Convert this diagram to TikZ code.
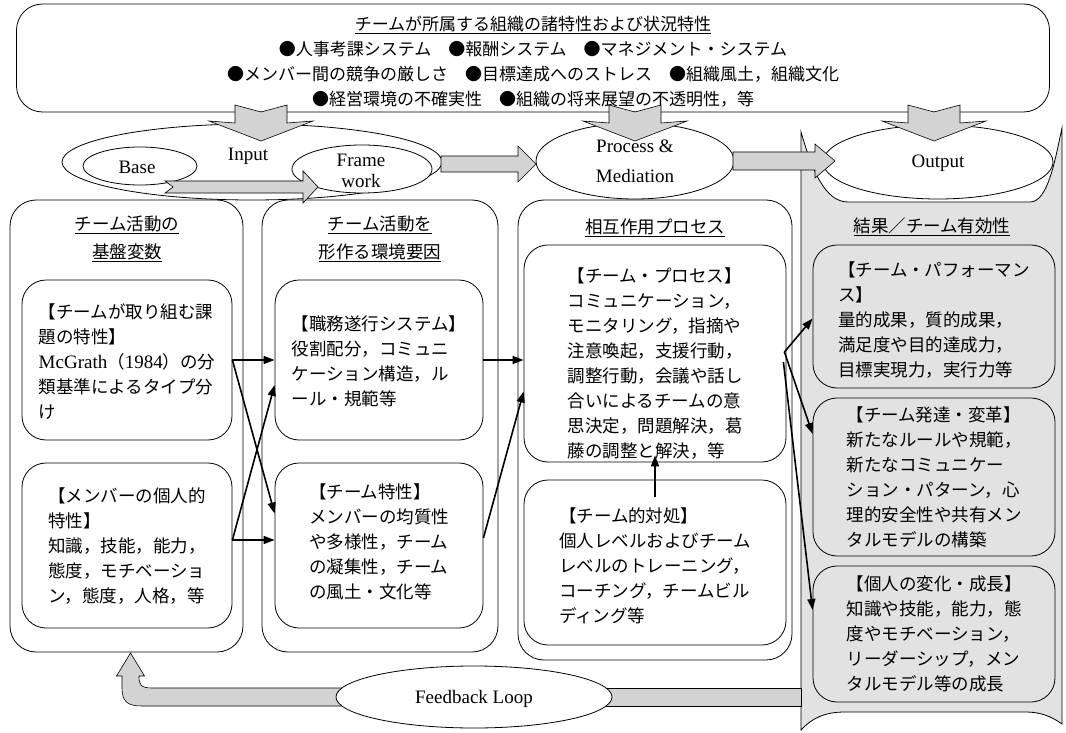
\documentclass[tikz,border=0pt]{standalone}
\usepackage{fontspec}
\setmainfont{Liberation Serif}
\newfontfamily\jp{Noto Sans CJK JP}
\usetikzlibrary{arrows.meta,shapes.geometric}
\definecolor{gfill}{HTML}{D3D3D3}
\definecolor{gcol}{HTML}{E2E2E2}
\newcommand\gdown[1]{%
\draw[garrow] (#1-26,105) -- (#1,112) -- (#1+26,105) -- (#1+26,123) -- (#1+52,121) -- (#1,141) -- (#1-52,121) -- (#1-26,123) -- cycle;}
\newcommand\gright[6]{%
\draw[garrow] (#1,#3-#4) -- (#2-#6,#3-#4) -- (#2-#6,#3-#5) -- (#2,#3) -- (#2-#6,#3+#5) -- (#2-#6,#3+#4) -- (#1,#3+#4) -- cycle;}
\newcommand\latin[1]{{\rmfamily\fontsize{19}{25}\selectfont #1}}
\begin{document}
\begin{tikzpicture}[x=1pt,y=-1pt,
  box/.style={draw=black,line width=0.8pt,rounded corners=26pt,inner sep=0pt},
  ibox/.style={draw=black,line width=0.8pt,rounded corners=24pt,inner sep=0pt},
  gbox/.style={ibox,fill=gcol},
  jtxt/.style={font=\jp\fontsize{17.5}{25}\selectfont,align=left,inner sep=0pt},
  jtitle/.style={font=\jp\fontsize{17.5}{28}\selectfont,align=center,inner sep=0pt},
  lat/.style={font=\fontsize{19}{22}\selectfont,align=center,inner sep=0pt},
  ell/.style={ellipse,draw=black,line width=0.8pt,fill=white,inner sep=0pt},
  garrow/.style={fill=gfill,draw=black,line width=0.6pt,line join=miter},
  blk/.style={line width=1.6pt,-{Triangle[length=11pt,width=8pt]}}]
\useasboundingbox (0,0) rectangle (1066,733);
% top box
\node[box,minimum width=1033pt,minimum height=108pt] (top) at (533,58) {};
\node[jtitle,font=\jp\fontsize{17}{25}\selectfont] (toptxt) at (533,62) {\underline{チームが所属する組織の諸特性および状況特性}\\●人事考課システム　●報酬システム　●マネジメント・システム\\●メンバー間の競争の厳しさ　●目標達成へのストレス　●組織風土，組織文化\\●経営環境の不確実性　●組織の将来展望の不透明性，等};
% output gray column
\draw[fill=gcol,line width=0.8pt] (801,132) -- (801,730) .. controls (812,718) and (825,712) .. (845,712) -- (1025,712) .. controls (1042,712) and (1052,717) .. (1062,724) -- (1062,128) .. controls (1055,160) and (1048,202) .. (1030,202) -- (848,202) .. controls (825,202) and (812,170) .. (801,132) -- cycle;
\node[jtitle] (c4t) at (932,227) {\underline{結果／チーム有効性}};
% columns
\node[box,minimum width=233pt,minimum height=452pt] (c1) at (126.5,426) {};
\node[box,minimum width=236pt,minimum height=452pt] (c2) at (380,426) {};
\node[box,minimum width=274pt,minimum height=460pt] (c3) at (655,430) {};
\node[jtitle] (c1t) at (127,239) {\underline{チーム活動の}\\\underline{基盤変数}};
\node[jtitle] (c2t) at (380,239) {\underline{チーム活動を}\\\underline{形作る環境要因}};
\node[jtitle] (c3t) at (655,228) {\underline{相互作用プロセス}};
% inner boxes
\node[ibox,minimum width=210pt,minimum height=160pt] (b1) at (127,360) {};
\node[ibox,minimum width=210pt,minimum height=165pt] (b3) at (127,545.5) {};
\node[ibox,minimum width=208pt,minimum height=160pt] (b2) at (379,360) {};
\node[ibox,minimum width=208pt,minimum height=165pt] (b4) at (379,545.5) {};
\node[ibox,minimum width=262pt,minimum height=217pt] (p) at (655,353.5) {};
\node[ibox,minimum width=262pt,minimum height=165pt] (t) at (655,562.5) {};
\node[gbox,minimum width=242pt,minimum height=143pt] (perf) at (934,316.5) {};
\node[gbox,minimum width=242pt,minimum height=158pt] (dev) at (934,477) {};
\node[gbox,minimum width=242pt,minimum height=136pt] (ind) at (934,634) {};
% texts
\node[jtxt] (b1x) at (127,362) {【チームが取り組む課\\題の特性】\\\latin{McGrath}（\latin{1984}）の分\\類基準によるタイプ分\\け};
\node[jtxt] (b2x) at (379,361) {【職務遂行システム】\\役割配分，コミュニ\\ケーション構造，ル\\ール・規範等};
\node[jtxt] (b3x) at (127,546) {【メンバーの個人的\\特性】\\知識，技能，能力，\\態度，モチベーショ\\ン，態度，人格，等};
\node[jtxt] (b4x) at (379,542) {【チーム特性】\\メンバーの均質性\\や多様性，チーム\\の凝集性，チーム\\の風土・文化等};
\node[jtxt] (px) at (655,364) {【チーム・プロセス】\\コミュニケーション，\\モニタリング，指摘や\\注意喚起，支援行動，\\調整行動，会議や話し\\合いによるチームの意\\思決定，問題解決，葛\\藤の調整と解決，等};
\node[jtxt] (tx) at (655,566) {【チーム的対処】\\個人レベルおよびチーム\\レベルのトレーニング，\\コーチング，チームビル\\ディング等};
\node[jtxt] (perfx) at (934,320) {【チーム・パフォーマン\\ス】\\量的成果，質的成果，\\満足度や目的達成力，\\目標実現力，実行力等};
\node[jtxt] (devx) at (934,477) {【チーム発達・変革】\\新たなルールや規範，\\新たなコミュニケー\\ション・パターン，心\\理的安全性や共有メン\\タルモデルの構築};
\node[jtxt] (indx) at (934,634) {【個人の変化・成長】\\知識や技能，能力，態\\度やモチベーション，\\リーダーシップ，メン\\タルモデル等の成長};
% ellipses
\node[ell,minimum width=380pt,minimum height=76pt] (inp) at (252,162) {};
\node[ell,minimum width=114pt,minimum height=38pt] (base) at (140,166) {};
\node[ell,minimum width=140pt,minimum height=48pt] (fw) at (362,169) {};
\node[ell,minimum width=198pt,minimum height=76pt] (proc) at (635,161) {};
\node[ell,minimum width=230pt,minimum height=74pt] (out) at (938,162) {};
\node[lat] (inpl) at (248,156) {Input};
\node[lat] (basel) at (137,167) {Base};
\node[lat,font=\fontsize{19}{21}\selectfont] (fwl) at (361,171) {Frame\\work};
\node[lat,font=\fontsize{19}{30}\selectfont] (procl) at (635,161) {Process \&\\Mediation};
\node[lat] (outl) at (938,163) {Output};
% gray arrows
\gdown{261}
\gdown{635}
\gdown{934}
\draw[garrow] (165,181) -- (303,181) -- (303,171) -- (318,187) -- (303,203) -- (303,193) -- (165,193) -- (173,187) -- cycle;
\gright{441}{536}{164}{8}{18}{18}
\gright{733}{835}{161}{9}{17}{20}
% black arrows
\draw[blk] (b1.east) -- (b2.west);
\draw[blk] ([yshift=5.5pt]b3.east) -- ([yshift=5.5pt]b4.west);
\draw[blk] (b1.east) -- ([yshift=32pt]b4.west);
\draw[blk] ([yshift=5.5pt]b3.east) -- ([yshift=-25pt]b2.west);
\draw[blk] (b2.east) -- ([yshift=-6.5pt]p.west);
\draw[blk] ([yshift=7.5pt]b4.east) -- ([yshift=-38pt]p.west);
\draw[blk] ([xshift=-2pt,yshift=1.5pt]p.east) -- ([yshift=-2pt]perf.west);
\draw[blk] ([xshift=-2pt,yshift=1.5pt]p.east) -- ([yshift=43pt]dev.west);
\draw[blk] ([xshift=-3pt,yshift=-8.5pt]p.east) -- ([yshift=24pt]ind.west);
\draw[blk] ([yshift=-17pt]t.north) -- ([yshift=7pt]p.south);
% feedback loop
\draw[garrow] (600,688) rectangle (801,706);
\coordinate (fbtip) at (130.5,653);
\draw[garrow] (345,688) -- (152,688) .. controls (140,688) and (139,684) .. (139,676) -- (144.5,676) -- (fbtip) -- (116.5,676) -- (122,676) -- (122,688) .. controls (122,702) and (128,706) .. (142,706) -- (345,706) -- cycle;
\node[ell,minimum width=276pt,minimum height=62pt] (fb) at (474,697) {};
\node[lat] (fbl) at (474,699) {Feedback Loop};
\end{tikzpicture}
\end{document}
